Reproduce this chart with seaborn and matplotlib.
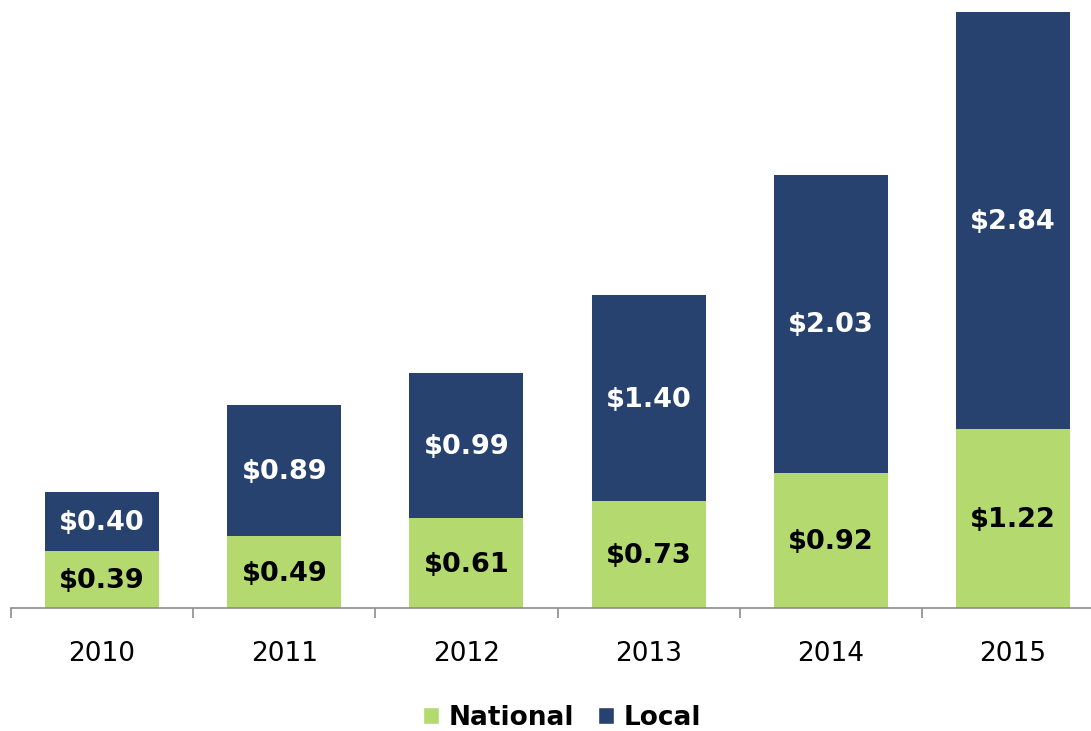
import matplotlib
matplotlib.use("Agg")
import matplotlib.pyplot as plt
import seaborn as sns
import pandas as pd
from matplotlib.patches import Patch

years = ["2010", "2011", "2012", "2013", "2014", "2015"]
national = [0.39, 0.49, 0.61, 0.73, 0.92, 1.22]
local = [0.40, 0.89, 0.99, 1.40, 2.03, 2.84]

GREEN = "#b3d96f"
NAVY = "#27426e"

sns.set_theme(style="white")
plt.rcParams["font.family"] = ["DejaVu Sans"]
plt.rcParams["text.color"] = "black"

df = pd.DataFrame({"year": years, "National": national, "Local": local})
df["Total"] = df["National"] + df["Local"]

fig = plt.figure(figsize=(10.91, 7.31), dpi=100)
ax = fig.add_axes([11 / 1091, (731 - 608) / 731, 1093 / 1091, 608 / 731])

# stacked look: full totals in navy, national share drawn over the bottom
sns.barplot(data=df, x="year", y="Total", color=NAVY, width=0.625,
            saturation=1, ax=ax, linewidth=0)
sns.barplot(data=df, x="year", y="National", color=GREEN, width=0.625,
            saturation=1, ax=ax, linewidth=0)

for i, (n, l) in enumerate(zip(national, local)):
    ax.text(i, n / 2 - 0.01, f"${n:.2f}", ha="center", va="center",
            fontsize=19.5, fontweight="bold", color="black")
    ax.text(i, n + l / 2 - 0.01, f"${l:.2f}", ha="center", va="center",
            fontsize=19.5, fontweight="bold", color="white")

ax.set_xlim(-0.5, 5.5)
ax.set_ylim(0, 608 / 146.8)
ax.set_xlabel("")
ax.set_ylabel("")
ax.set_yticks([])

for side in ["left", "right", "top"]:
    ax.spines[side].set_visible(False)
ax.spines["bottom"].set_color("#8c8c8c")
ax.spines["bottom"].set_linewidth(1.2)

ax.set_xticks(range(len(years)))
ax.set_xticklabels(years, fontsize=19)
ax.tick_params(axis="x", which="major", length=0, pad=24, colors="black")
ax.set_xticks([i - 0.5 for i in range(len(years) + 1)], minor=True)
ax.tick_params(axis="x", which="minor", length=7, width=1.2,
               color="#8c8c8c", bottom=True)

handles = [Patch(facecolor=GREEN, label="National"),
           Patch(facecolor=NAVY, label="Local")]
fig.legend(handles=handles, loc="center", bbox_to_anchor=(562 / 1091, 1 - 718 / 731),
           ncol=2, frameon=False, handlelength=0.62, handleheight=0.62,
           handletextpad=0.35, columnspacing=0.9, labelcolor="black",
           prop={"size": 19, "weight": "bold"})

fig.savefig("out.png", dpi=100)
